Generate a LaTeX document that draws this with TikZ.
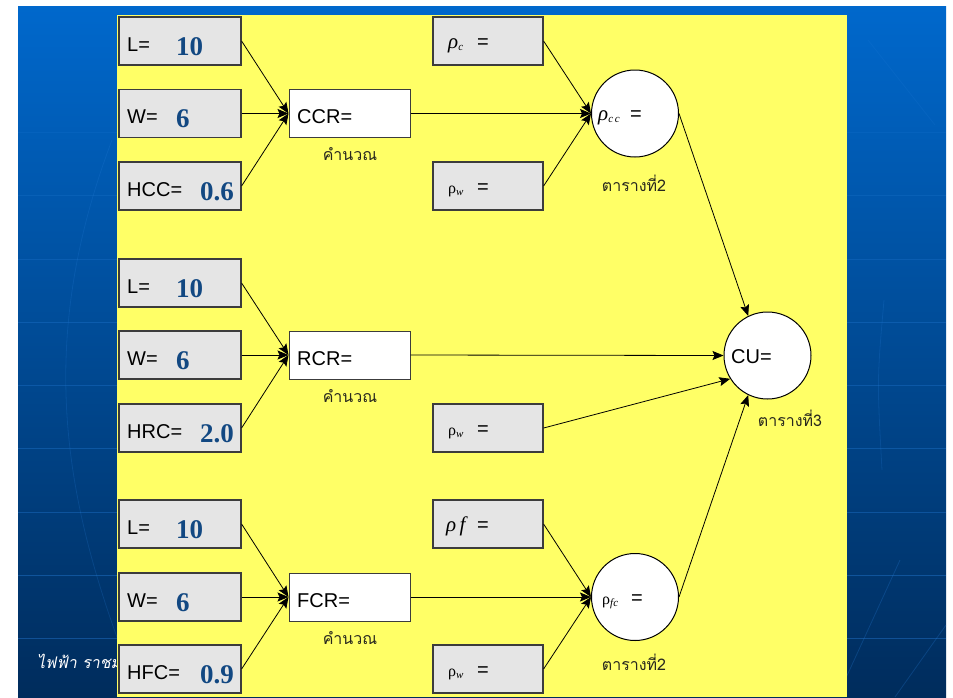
\documentclass[tikz,border=0pt]{standalone}
\usepackage{fontspec}
\setmainfont{Liberation Sans}
\newfontfamily\numfont{Liberation Serif}
\newfontfamily\thaifont[Script=Thai]{Loma}
\newfontfamily\thaiit[Script=Thai,FakeSlant=0.2]{Loma}
\usetikzlibrary{arrows.meta}

\definecolor{slidetop}{RGB}{0,104,204}
\definecolor{slidebot}{RGB}{0,44,92}
\definecolor{gridblue}{RGB}{40,128,220}
\definecolor{panel}{RGB}{255,255,102}
\definecolor{boxgray}{RGB}{229,229,229}
\definecolor{boxline}{RGB}{60,60,60}
\definecolor{numblue}{RGB}{18,72,130}
\definecolor{notetext}{RGB}{40,40,30}

% symbol helpers: italic / upright rho with a small italic subscript
\newcommand{\rhoI}{{\numfont\itshape\fontsize{21}{21}\selectfont ρ}}
\newcommand{\rhoU}{{\numfont\fontsize{16}{16}\selectfont ρ}}
\newcommand{\subtx}[1]{\raisebox{-2pt}{\numfont\itshape\fontsize{11}{11}\selectfont #1}}

\tikzset{
  inbox/.style={draw=boxline, line width=1.2pt, fill=boxgray, minimum width=122pt, minimum height=48pt, inner sep=0pt},
  valbox/.style={draw=boxline, line width=1.2pt, fill=boxgray, minimum width=110pt, minimum height=48pt, inner sep=0pt},
  calcbox/.style={draw=boxline, line width=1pt, fill=white, minimum width=121pt, minimum height=48pt, inner sep=0pt},
  lookup/.style={circle, draw=black, line width=1pt, fill=white, minimum size=87pt, inner sep=0pt},
  lbl/.style={anchor=base west, font=\fontsize{20}{22}\selectfont, inner sep=0pt},
  num/.style={anchor=base west, font=\numfont\bfseries\fontsize{27}{28}\selectfont, text=numblue, inner sep=0pt},
  note/.style={font=\thaifont\fontsize{16}{17}\selectfont, text=notetext, inner sep=0pt},
  link/.style={-{Stealth[length=11pt,width=9pt,inset=2pt]}, line width=0.8pt},
  gridline/.style={gridblue, line width=0.8pt, opacity=0.3},
}

\begin{document}
\begin{tikzpicture}[x=1pt,y=-1pt]
\useasboundingbox (0,0) rectangle (953,697);
\fill[white] (0,0) rectangle (953,697);

% slide background
\shade[top color=slidetop, bottom color=slidebot] (18,6) rectangle (946,697);
\foreach \gy/\op in {132/0.15,195.5/0.2,259/0.25,322/0.3,385.5/0.3,448.5/0.35,512/0.35,575/0.4,638/0.4}
  \draw[gridline, opacity=\op] (18,\gy) -- (946,\gy);
\draw[gridline, opacity=0.2] (112,140) .. controls (40,330) and (60,480) .. (118,640);
\draw[gridline, opacity=0.2] (884,300) .. controls (877,380) .. (882,470);
\draw[gridline, opacity=0.15] (868,40) -- (935,125);
\draw[gridline, opacity=0.25] (900,560) -- (845,680);
\draw[gridline, opacity=0.25] (946,625) -- (895,697);
\node[anchor=base west, text=white, font=\thaiit\fontsize{16}{16}\selectfont, inner sep=0pt] (footer) at (37,668) {ไฟฟ้า ราชม};

% content panel
\fill[panel] (117,15) rectangle (847,697);

% ---------- group 1: CCR ----------
\node[inbox] (lA1) at (180,41) {};
\node[inbox] (lA2) at (180,113.5) {};
\node[inbox] (lA3) at (180,186) {};
\node[lbl] (tA1) at (127,51) {L=};
\node[num] (nA1) at (176,55) {10};
\node[lbl] (tA2) at (127,123.5) {W=};
\node[num] (nA2) at (176,127.5) {6};
\node[lbl] (tA3) at (127,196) {HCC=};
\node[num] (nA3) at (200,200) {0.6};
\node[calcbox] (calcA) at (349.5,113.5) {};
\node[lbl] (cA) at (297,123.5) {CCR=};
\node[note] (kA) at (350,154) {คำนวณ};
\node[valbox] (mA1) at (488,41) {};
\node[lbl] (sA1) at (448,48) {\makebox[29pt][l]{\rhoI\subtx{c}}=};
\node[valbox] (mA2) at (488,186) {};
\node[lbl] (sA2) at (448,193) {\makebox[29pt][l]{\rhoU\subtx{w}}=};
\node[lookup] (circA) at (635,113.5) {};
\node[lbl] (sA3) at (598,120) {\makebox[32pt][l]{\rhoI\subtx{c\,c}}=};
\node[note] (rA) at (634,183) {ตารางที่2};

\draw[link] (lA1.east) -- (calcA.west);
\draw[link] (lA2.east) -- (calcA.west);
\draw[link] (lA3.east) -- (calcA.west);
\draw[link] (mA1.east) -- (circA.west);
\draw[link] (calcA.east) -- (circA.west);
\draw[link] (mA2.east) -- (circA.west);

% ---------- group 2: RCR ----------
\node[inbox] (lB1) at (180,283) {};
\node[inbox] (lB2) at (180,355) {};
\node[inbox] (lB3) at (180,428) {};
\node[lbl] (tB1) at (127,293) {L=};
\node[num] (nB1) at (176,297) {10};
\node[lbl] (tB2) at (127,365) {W=};
\node[num] (nB2) at (176,369) {6};
\node[lbl] (tB3) at (127,438) {HRC=};
\node[num] (nB3) at (200,442) {2.0};
\node[calcbox] (calcB) at (349.5,355) {};
\node[lbl] (cB) at (297,365) {RCR=};
\node[note] (kB) at (350,396) {คำนวณ};
\node[valbox] (mB) at (488,428) {};
\node[lbl] (sB) at (448,435) {\makebox[29pt][l]{\rhoU\subtx{w}}=};

% ---------- group 3: FCR ----------
\node[inbox] (lC1) at (180,524) {};
\node[inbox] (lC2) at (180,597) {};
\node[inbox] (lC3) at (180,669) {};
\node[lbl] (tC1) at (127,534) {L=};
\node[num] (nC1) at (176,538) {10};
\node[lbl] (tC2) at (127,607) {W=};
\node[num] (nC2) at (176,611) {6};
\node[lbl] (tC3) at (127,679) {HFC=};
\node[num] (nC3) at (200,683) {0.9};
\node[calcbox] (calcC) at (349.5,597) {};
\node[lbl] (cC) at (297,607) {FCR=};
\node[note] (kC) at (350,638) {คำนวณ};
\node[valbox] (mC1) at (488,524) {};
\node[lbl] (sC1) at (446,531) {\makebox[31pt][l]{\rhoI\,{\numfont\itshape\fontsize{21}{21}\selectfont f}}=};
\node[valbox] (mC2) at (488,669) {};
\node[lbl] (sC2) at (448,676) {\makebox[29pt][l]{\rhoU\subtx{w}}=};
\node[lookup] (circC) at (635,597) {};
\node[lbl] (sC3) at (602,604) {\makebox[29pt][l]{\rhoU\subtx{fc}}=};
\node[note] (rC) at (634,662) {ตารางที่2};

\draw[link] (lC1.east) -- (calcC.west);
\draw[link] (lC2.east) -- (calcC.west);
\draw[link] (lC3.east) -- (calcC.west);
\draw[link] (mC1.east) -- (circC.west);
\draw[link] (calcC.east) -- (circC.west);
\draw[link] (mC2.east) -- (circC.west);

% ---------- result ----------
\node[lookup] (CU) at (767.5,355.5) {};
\node[lbl] (tCU) at (731,363) {CU=};
\node[note] (rCU) at (790,418) {ตารางที่3};

\draw[link] (lB1.east) -- (calcB.west);
\draw[link] (lB2.east) -- (calcB.west);
\draw[link] (lB3.east) -- (calcB.west);
\draw[link] (circA.east) -- (CU.116);
\draw[link] (calcB.east) -- (CU.west);
\draw[link] (mB.east) -- (CU.212);
\draw[link] (circC.east) -- (CU.244);
\end{tikzpicture}
\end{document}
